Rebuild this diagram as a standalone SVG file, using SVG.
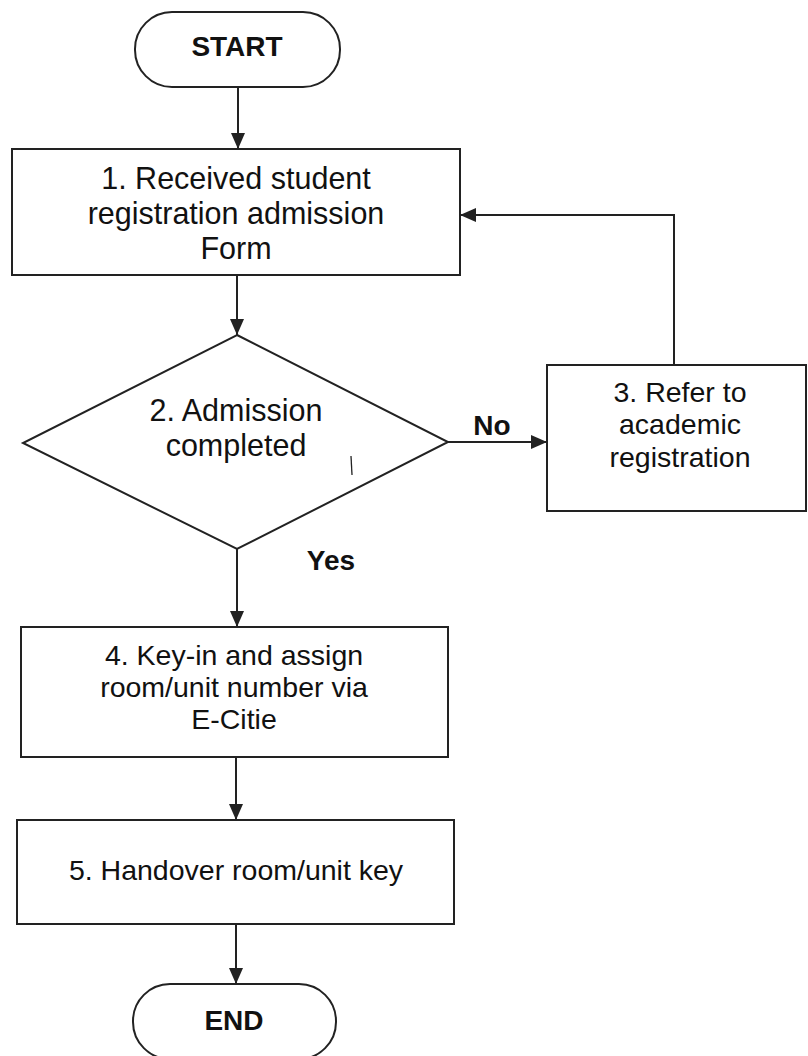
<svg xmlns="http://www.w3.org/2000/svg" width="808" height="1056" viewBox="0 0 808 1056">
<defs>
<style>
.shape{fill:#fff;stroke:#222;stroke-width:2}
.edge{fill:none;stroke:#222;stroke-width:2}
.t{font-family:"Liberation Sans",Arial,sans-serif;fill:#111;text-anchor:middle}
.b{font-weight:bold;font-size:28px}
.n30{font-size:30.5px}
.n28{font-size:28.5px}
</style>
<marker id="arr" markerUnits="userSpaceOnUse" markerWidth="16" markerHeight="14" viewBox="0 0 16 14" refX="16" refY="7" orient="auto">
<path d="M0,0 L16,7 L0,14 Z" fill="#222"/>
</marker>
</defs>
<rect width="808" height="1056" fill="#fff"/>
<g id="connectors">
<line class="edge" x1="238" y1="87" x2="238" y2="149" marker-end="url(#arr)"/>
<line class="edge" x1="237" y1="275" x2="237" y2="335" marker-end="url(#arr)"/>
<line class="edge" x1="448" y1="442" x2="547" y2="442" marker-end="url(#arr)"/>
<polyline class="edge" points="674,365 674,215 460,215" marker-end="url(#arr)"/>
<line class="edge" x1="237" y1="549" x2="237" y2="627" marker-end="url(#arr)"/>
<line class="edge" x1="236" y1="757" x2="236" y2="820" marker-end="url(#arr)"/>
<line class="edge" x1="236" y1="924" x2="236" y2="984" marker-end="url(#arr)"/>
<text class="t b" x="492" y="435">No</text>
<text class="t b" x="331" y="570">Yes</text>
</g>
<g id="start">
<rect class="shape" x="135" y="12" width="205" height="75" rx="37" ry="37"/>
<text class="t b" x="237" y="56">START</text>
</g>
<g id="n1">
<rect class="shape" x="12" y="149" width="448" height="126"/>
<text class="t n30" x="236"><tspan x="236" y="189">1. Received student</tspan><tspan x="236" y="224">registration admission</tspan><tspan x="236" y="259">Form</tspan></text>
</g>
<g id="n2">
<polygon class="shape" points="237,335 448,442 237,549 23,443"/>
<text class="t n30" x="236"><tspan x="236" y="421">2. Admission</tspan><tspan x="236" y="456">completed</tspan></text>
<line x1="351" y1="456" x2="352" y2="475" stroke="#222" stroke-width="1.3"/>
</g>
<g id="n3">
<rect class="shape" x="547" y="365" width="259" height="146"/>
<text class="t n28" x="680"><tspan x="680" y="402">3. Refer to</tspan><tspan x="680" y="434">academic</tspan><tspan x="680" y="467">registration</tspan></text>
</g>
<g id="n4">
<rect class="shape" x="21" y="627" width="427" height="130"/>
<text class="t n28" x="234"><tspan x="234" y="665">4. Key-in and assign</tspan><tspan x="234" y="697">room/unit number via</tspan><tspan x="234" y="729">E-Citie</tspan></text>
</g>
<g id="n5">
<rect class="shape" x="17" y="820" width="437" height="104"/>
<text class="t n28" x="236" y="880">5. Handover room/unit key</text>
</g>
<g id="end">
<rect class="shape" x="133" y="984" width="203" height="75" rx="37" ry="37"/>
<text class="t b" x="234" y="1030">END</text>
</g>
</svg>
